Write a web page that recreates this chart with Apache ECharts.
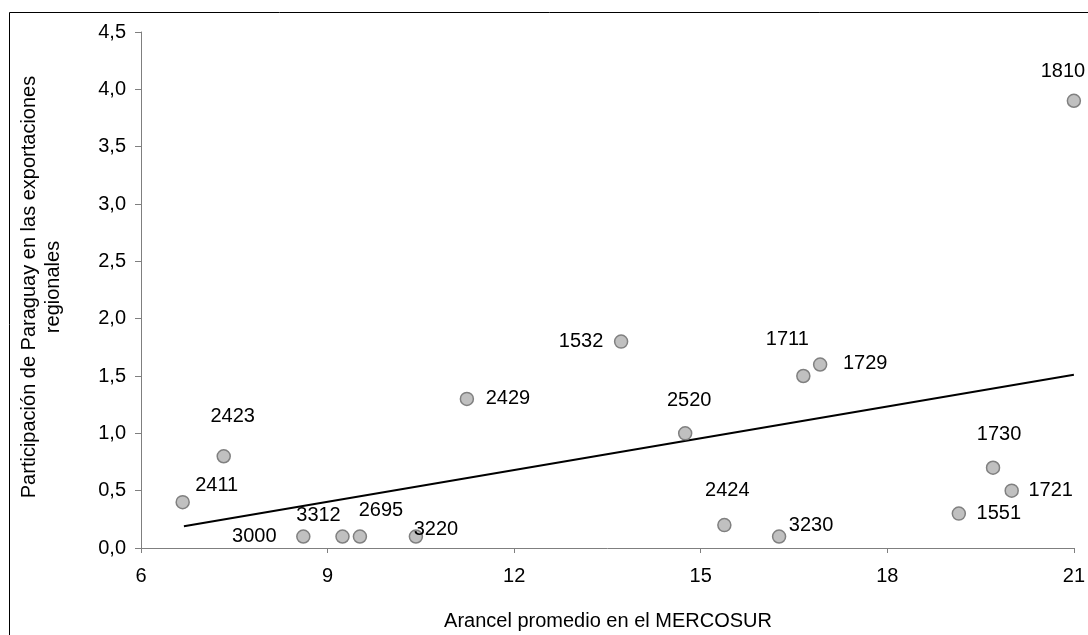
<!DOCTYPE html>
<html>
<head>
<meta charset="utf-8">
<script src="https://cdn.jsdelivr.net/npm/echarts@6/dist/echarts.min.js"></script>
<style>
html,body{margin:0;padding:0;background:#fff;}
#chart{width:1088px;height:635px;}
</style>
</head>
<body>
<div id="chart"></div>
<script>
// Data
var codes = ['2411','2423','3000','3312','2695','3220','2429','1532','2520','2424','3230','1711','1729','1551','1730','1721','1810'];
var arancel = [6.67, 7.33, 8.61, 9.24, 9.52, 10.42, 11.24, 13.72, 14.75, 15.38, 16.26, 16.65, 16.92, 19.15, 19.70, 20.0, 21.0];
var participacion = [0.4, 0.8, 0.1, 0.1, 0.1, 0.1, 1.3, 1.8, 1.0, 0.2, 0.1, 1.5, 1.6, 0.3, 0.7, 0.5, 3.9];
var trendX = [6.69, 21.0];
var trendY = [0.19, 1.51];
var xTicks = [6, 9, 12, 15, 18, 21];
var yTicks = [0, 0.5, 1, 1.5, 2, 2.5, 3, 3.5, 4, 4.5];

// Label placement (style, not data)
var labelOffsets = [
  [34,-17],[9,-40],[-49,0],[-24,-21],[21,-26],[20,-7],[41,0],[-40,0],[4,-33],
  [3,-35],[32,-11],[-16,-37],[45,-1],[40,0],[6,-33],[39,0],[-11,-29]
];

var FONT = 'Liberation Sans, Arial, sans-serif';
var FS = 20;

var scatterData = codes.map(function(c, i){
  return {
    value: [arancel[i], participacion[i]],
    name: c,
    label: { offset: labelOffsets[i] }
  };
});
var trendData = trendX.map(function(x, i){ return [x, trendY[i]]; });

var chart = echarts.init(document.getElementById('chart'));
chart.setOption({
  backgroundColor: '#ffffff',
  animation: false,
  grid: { left: 141, right: 11, top: 32, bottom: 87 },
  xAxis: {
    type: 'value',
    min: xTicks[0], max: xTicks[xTicks.length-1], interval: 3,
    splitLine: { show: false },
    axisLine: { show: true, onZero: false, lineStyle: { color: '#7f7f7f', width: 1 } },
    axisTick: { show: true, length: 5, inside: false, lineStyle: { color: '#7f7f7f' } },
    axisLabel: { color: '#000', fontSize: FS, fontFamily: FONT, margin: 18 }
  },
  yAxis: {
    type: 'value',
    min: yTicks[0], max: yTicks[yTicks.length-1], interval: 0.5,
    splitLine: { show: false },
    axisLine: { show: true, onZero: false, lineStyle: { color: '#7f7f7f', width: 1 } },
    axisTick: { show: true, length: 6, lineStyle: { color: '#7f7f7f' } },
    axisLabel: {
      color: '#000', fontSize: FS, fontFamily: FONT, margin: 15,
      formatter: function(v){ return v.toFixed(1).replace('.', ','); }
    }
  },
  series: [
    {
      type: 'line',
      data: trendData,
      symbol: 'none',
      lineStyle: { color: '#000', width: 2 },
      silent: true,
      z: 1
    },
    {
      type: 'scatter',
      data: scatterData,
      symbol: 'circle',
      symbolSize: 13,
      clip: false,
      itemStyle: { color: '#c0c0c0', borderColor: '#808080', borderWidth: 1.5, opacity: 1 },
      label: {
        show: true,
        position: 'inside',
        formatter: function(p){ return p.name; },
        color: '#000',
        fontSize: FS,
        fontFamily: FONT
      },
      z: 3
    }
  ],
  graphic: [
    {
      type: 'rect',
      shape: { x: 9.5, y: 12.5, width: 1200, height: 800 },
      style: { fill: 'none', stroke: '#000', lineWidth: 1 },
      silent: true, z: -1
    },
    {
      type: 'text',
      x: 41, y: 287,
      rotation: Math.PI / 2,
      style: {
        text: 'Participación de Paraguay en las exportaciones\nregionales',
        fill: '#000',
        font: FS + 'px ' + FONT,
        align: 'center',
        verticalAlign: 'middle',
        lineHeight: 24
      }
    },
    {
      type: 'text',
      x: 608, y: 621,
      style: {
        text: 'Arancel promedio en el MERCOSUR',
        fill: '#000',
        font: FS + 'px ' + FONT,
        align: 'center',
        verticalAlign: 'middle'
      }
    }
  ]
});
</script>
</body>
</html>
